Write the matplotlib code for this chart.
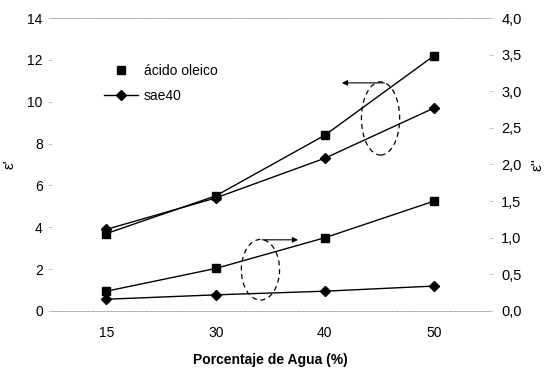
import matplotlib
matplotlib.use("Agg")
import matplotlib.pyplot as plt
from matplotlib.lines import Line2D
from matplotlib.patches import Ellipse

plt.rcParams["font.family"] = ["Liberation Sans", "DejaVu Sans"]

# data
agua = ["15", "30", "40", "50"]
eps1_oleico = [3.7, 5.5, 8.4, 12.2]
eps1_sae40 = [3.9, 5.4, 7.3, 9.7]
eps2_oleico = [0.27, 0.58, 1.0, 1.5]
eps2_sae40 = [0.16, 0.22, 0.27, 0.34]

x = list(range(len(agua)))

fig = plt.figure(figsize=(5.46, 3.68), dpi=100)
ax = fig.add_axes([0.095, 0.155, 0.80, 0.796])
ax2 = ax.twinx()

sq = dict(marker="s", markersize=5.5, color="black", lw=1.0)
dm = dict(marker="D", markersize=5, color="black", lw=1.0)
ax.plot(x, eps1_oleico, **sq)
ax.plot(x, eps1_sae40, **dm)
ax2.plot(x, eps2_oleico, **sq)
ax2.plot(x, eps2_sae40, **dm)

ax.set_xlim(-0.5, 3.5)
ax.set_ylim(0, 14)
ax2.set_ylim(0, 4)
ax.set_xticks(x)
ax.set_xticklabels(agua)
ax.set_yticks(range(0, 15, 2))
ax2.set_yticks([0, 0.5, 1, 1.5, 2, 2.5, 3, 3.5, 4])
ax2.set_yticklabels([f"{v:.1f}".replace(".", ",") for v in ax2.get_yticks()])

for a in (ax, ax2):
    for s in ("left", "right"):
        a.spines[s].set_visible(False)
    for s in ("top", "bottom"):
        a.spines[s].set_linestyle(":")
        a.spines[s].set_color("#aaaaaa")
        a.spines[s].set_linewidth(0.7)
    a.tick_params(labelsize=10, length=3, color="#bbbbbb", width=0.6)
ax.tick_params(axis="x", length=0, pad=11)
ax2.tick_params(axis="y", labelsize=10.5, pad=6)

ax.set_xlabel("Porcentaje de Agua (%)", fontsize=10, fontweight="bold", labelpad=9)
ax.set_ylabel("ε'", fontsize=11, labelpad=8)
ax2.set_ylabel("ε''", fontsize=11, labelpad=6)

# dashed ellipses with arrows pointing to the corresponding axis
ax.add_patch(Ellipse((2.51, 9.2), 0.35, 3.5, fill=False, ls=(0, (4, 3)), lw=0.9, color="black"))
ax.add_patch(Ellipse((1.41, 1.97), 0.35, 2.9, fill=False, ls=(0, (4, 3)), lw=0.9, color="black"))
ax.annotate("", xy=(2.13, 10.9), xytext=(2.57, 10.9),
            arrowprops=dict(arrowstyle="-|>", lw=0.8, color="black", mutation_scale=8))
ax.annotate("", xy=(1.78, 3.4), xytext=(1.40, 3.4),
            arrowprops=dict(arrowstyle="-|>", lw=0.8, color="black", mutation_scale=8))

handles = [
    Line2D([], [], marker="s", markersize=5.5, color="black", lw=0),
    Line2D([], [], marker="D", markersize=5, color="black", lw=1.0),
]
ax.legend(handles, ["ácido oleico", "sae40"], loc="upper left",
          bbox_to_anchor=(0.09, 0.885), frameon=False, fontsize=10,
          handlelength=2.5, handletextpad=0.4, labelspacing=0.8)

fig.savefig("out.png", dpi=100)
